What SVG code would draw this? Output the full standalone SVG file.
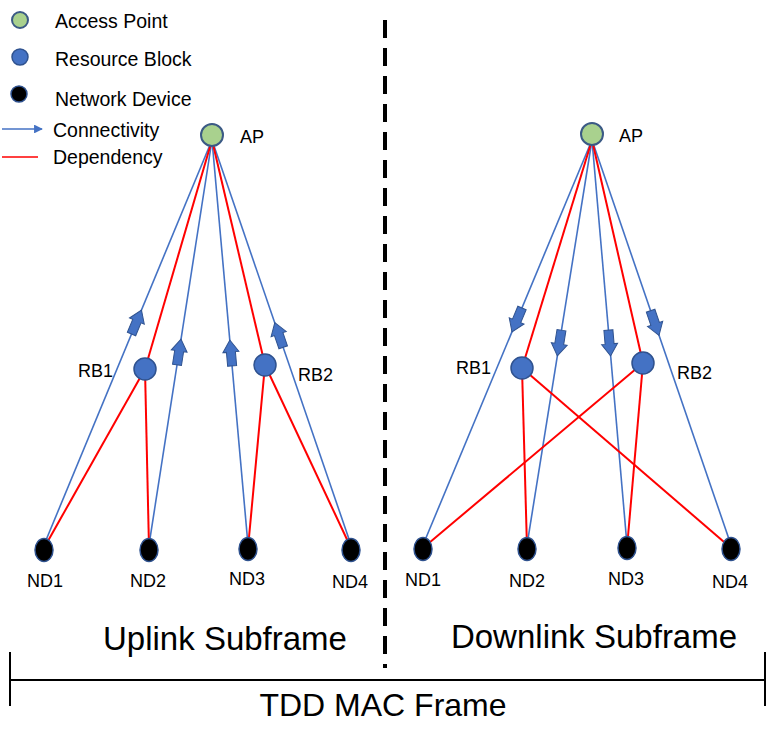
<svg xmlns="http://www.w3.org/2000/svg" width="768" height="748" viewBox="0 0 768 748">
<style>
text{font-family:"Liberation Sans",Arial,sans-serif;fill:#000}
.leg{font-size:19.5px}
.lbl{font-size:18px}
.nd{font-size:18px;text-anchor:middle}
.big{font-size:33px;text-anchor:middle}
.bl{stroke:#4472C4;stroke-width:1.6;fill:none}
.rd{stroke:#FF0000;stroke-width:2;fill:none}
.ap{fill:#A9D18E;stroke:#3B5A85;stroke-width:2}
.rb{fill:#4472C4;stroke:#2F528F;stroke-width:1.5}
.ndc{fill:#000;stroke:#2F528F;stroke-width:1.5}
.arr{fill:#4472C4;stroke:#2F528F;stroke-width:1}
</style>
<defs>
<path id="ba" d="M-4.5,13 L4.5,13 L4.5,-1 L8,-1 L0,-13 L-8,-1 L-4.5,-1 Z"/>
<marker id="mh" viewBox="0 0 10 10" refX="9" refY="5" markerWidth="6" markerHeight="5.5" markerUnits="strokeWidth" orient="auto"><path d="M0,0 L10,5 L0,10 Z" fill="#4472C4"/></marker>
</defs>
<rect width="768" height="748" fill="#fff"/>

<g id="legend">
<circle cx="20" cy="20" r="8" class="ap"/>
<text class="leg" x="55" y="28">Access Point</text>
<circle cx="20" cy="57" r="8" class="rb"/>
<text class="leg" x="55" y="66">Resource Block</text>
<circle cx="19" cy="94" r="8" class="ndc"/>
<text class="leg" x="55" y="106">Network Device</text>
<line x1="2" y1="129" x2="42" y2="129" class="bl" marker-end="url(#mh)"/>
<text class="leg" x="53" y="137">Connectivity</text>
<line x1="2" y1="157" x2="38" y2="157" stroke="#FF0000" stroke-width="1.5"/>
<text class="leg" x="53" y="164">Dependency</text>
</g>

<g id="connectors">
<line x1="212" y1="140" x2="44" y2="545" class="bl"/>
<line x1="212" y1="140" x2="149" y2="545" class="bl"/>
<line x1="212" y1="140" x2="248" y2="545" class="bl"/>
<line x1="212" y1="140" x2="351" y2="545" class="bl"/>
<line x1="212" y1="140" x2="145" y2="369" class="rd"/>
<line x1="212" y1="140" x2="265" y2="365" class="rd"/>
<line x1="145" y1="369" x2="44" y2="548" class="rd"/>
<line x1="145" y1="369" x2="149" y2="548" class="rd"/>
<line x1="265" y1="365" x2="248" y2="548" class="rd"/>
<line x1="265" y1="365" x2="351" y2="548" class="rd"/>
<line x1="592" y1="140" x2="423" y2="545" class="bl"/>
<line x1="592" y1="140" x2="527" y2="545" class="bl"/>
<line x1="592" y1="140" x2="627" y2="545" class="bl"/>
<line x1="592" y1="140" x2="731" y2="545" class="bl"/>
<line x1="592" y1="140" x2="522" y2="368" class="rd"/>
<line x1="592" y1="140" x2="643" y2="363" class="rd"/>
<line x1="522" y1="368" x2="527" y2="548" class="rd"/>
<line x1="522" y1="368" x2="731" y2="548" class="rd"/>
<line x1="643" y1="363" x2="423" y2="548" class="rd"/>
<line x1="643" y1="363" x2="627" y2="548" class="rd"/>
<use href="#ba" class="arr" transform="translate(136.5,322) rotate(22.5)"/>
<use href="#ba" class="arr" transform="translate(179,352) rotate(8.8)"/>
<use href="#ba" class="arr" transform="translate(231,353) rotate(-5.1)"/>
<use href="#ba" class="arr" transform="translate(279,335) rotate(-18.9)"/>
<use href="#ba" class="arr" transform="translate(517,320) rotate(202.6)"/>
<use href="#ba" class="arr" transform="translate(559.4,343) rotate(189.1)"/>
<use href="#ba" class="arr" transform="translate(609.5,343) rotate(175.1)"/>
<use href="#ba" class="arr" transform="translate(654.8,323) rotate(161.1)"/>
</g>

<g id="ap-up"><circle cx="212" cy="135" r="11" class="ap"/><text class="lbl" x="240" y="143">AP</text></g>
<g id="rb1-up"><circle cx="145" cy="369" r="11" class="rb"/><text class="lbl" x="78" y="377">RB1</text></g>
<g id="rb2-up"><circle cx="265" cy="365" r="11" class="rb"/><text class="lbl" x="298" y="381">RB2</text></g>
<g id="nd1-up"><ellipse cx="44" cy="550" rx="9" ry="11.5" class="ndc"/><text class="nd" x="45" y="587">ND1</text></g>
<g id="nd2-up"><ellipse cx="149" cy="550" rx="9" ry="11.5" class="ndc"/><text class="nd" x="148" y="587">ND2</text></g>
<g id="nd3-up"><ellipse cx="248" cy="549" rx="9" ry="11.5" class="ndc"/><text class="nd" x="247" y="585">ND3</text></g>
<g id="nd4-up"><ellipse cx="351" cy="550" rx="9" ry="11.5" class="ndc"/><text class="nd" x="350" y="588">ND4</text></g>

<g id="ap-down"><circle cx="592" cy="134" r="11" class="ap"/><text class="lbl" x="619" y="142">AP</text></g>
<g id="rb1-down"><circle cx="522" cy="368" r="11" class="rb"/><text class="lbl" x="456" y="374">RB1</text></g>
<g id="rb2-down"><circle cx="643" cy="363" r="11" class="rb"/><text class="lbl" x="677" y="379">RB2</text></g>
<g id="nd1-down"><ellipse cx="423" cy="549" rx="9" ry="11.5" class="ndc"/><text class="nd" x="423" y="586">ND1</text></g>
<g id="nd2-down"><ellipse cx="527" cy="549" rx="9" ry="11.5" class="ndc"/><text class="nd" x="527" y="587">ND2</text></g>
<g id="nd3-down"><ellipse cx="627" cy="548" rx="9" ry="11.5" class="ndc"/><text class="nd" x="626" y="585">ND3</text></g>
<g id="nd4-down"><ellipse cx="731" cy="549" rx="9" ry="11.5" class="ndc"/><text class="nd" x="730" y="588">ND4</text></g>

<g id="frame">
<line x1="385" y1="20" x2="385" y2="668" stroke="#000" stroke-width="4" stroke-dasharray="18,10"/>
<text class="big" x="225" y="650">Uplink Subframe</text>
<text class="big" x="594" y="648">Downlink Subframe</text>
<line x1="10" y1="680" x2="765" y2="680" stroke="#000" stroke-width="2"/>
<line x1="10" y1="652" x2="10" y2="706" stroke="#000" stroke-width="2"/>
<line x1="765" y1="652" x2="765" y2="706" stroke="#000" stroke-width="2"/>
<text class="big" x="383" y="716" style="font-size:32px">TDD MAC Frame</text>
</g>
</svg>
